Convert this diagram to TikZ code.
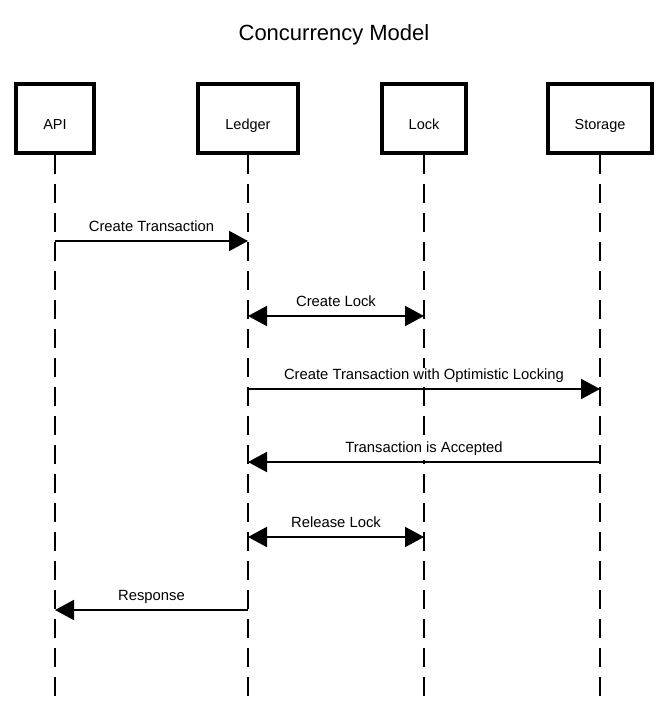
\documentclass[tikz,border=0pt]{standalone}
\usepackage{fontspec}
\setmainfont{Liberation Sans}
\usetikzlibrary{arrows.meta, positioning}

\begin{document}
\begin{tikzpicture}[x=1pt, y=-1pt]
	\tikzset{actor/.style={draw, line width=4pt, inner xsep=27pt, minimum height=69pt, text height=22pt, text depth=0pt, font=\fontsize{14.5}{17}\selectfont}}
	\tikzset{life/.style={line width=2pt, dash pattern=on 19pt off 10pt}}
	\tikzset{msg/.style={-{Triangle[length=19pt, width=20pt]}, line width=2pt}}
	\tikzset{both/.style={{Triangle[length=19pt, width=20pt]}-{Triangle[length=19pt, width=20pt]}, line width=2pt}}
	\tikzset{lbl/.style={midway, anchor=south, yshift=1pt, fill=white, inner xsep=2pt, inner ysep=0pt, text height=11pt, text depth=8pt, font=\fontsize{14.8}{17}\selectfont}}
	
	\useasboundingbox (0,0) rectangle (667,703);
	
	\node(title) at (334,35) [font=\fontsize{22}{26}\selectfont] {Concurrency Model};
	
	\node(api) at (55,118.5) [actor] {API};
	\node(ledger) at (248,118.5) [actor] {Ledger};
	\node(lock) at (424,118.5) [actor] {Lock};
	\node(storage) at (600,118.5) [actor] {Storage};
	
	\coordinate(bottom) at (0,703);
	
	\draw[life] (api.south) -- (api |- bottom);
	\draw[life] (ledger.south) -- (ledger |- bottom);
	\draw[life] (lock.south) -- (lock |- bottom);
	\draw[life] (storage.south) -- (storage |- bottom);
	
	\coordinate(m1) at (0,241);
	\coordinate(m2) at (0,316);
	\coordinate(m3) at (0,389);
	\coordinate(m4) at (0,462);
	\coordinate(m5) at (0,537);
	\coordinate(m6) at (0,610);
	
	\draw[msg] (api |- m1) -- (ledger |- m1) node[lbl] {Create Transaction};
	\draw[both] (ledger |- m2) -- (lock |- m2) node[lbl] {Create Lock};
	\draw[msg] (ledger |- m3) -- (storage |- m3) node[lbl] {Create Transaction with Optimistic Locking};
	\draw[msg] (storage |- m4) -- (ledger |- m4) node[lbl] {Transaction is Accepted};
	\draw[both] (ledger |- m5) -- (lock |- m5) node[lbl] {Release Lock};
	\draw[msg] (ledger |- m6) -- (api |- m6) node[lbl] {Response};
	
\end{tikzpicture}
\end{document}
